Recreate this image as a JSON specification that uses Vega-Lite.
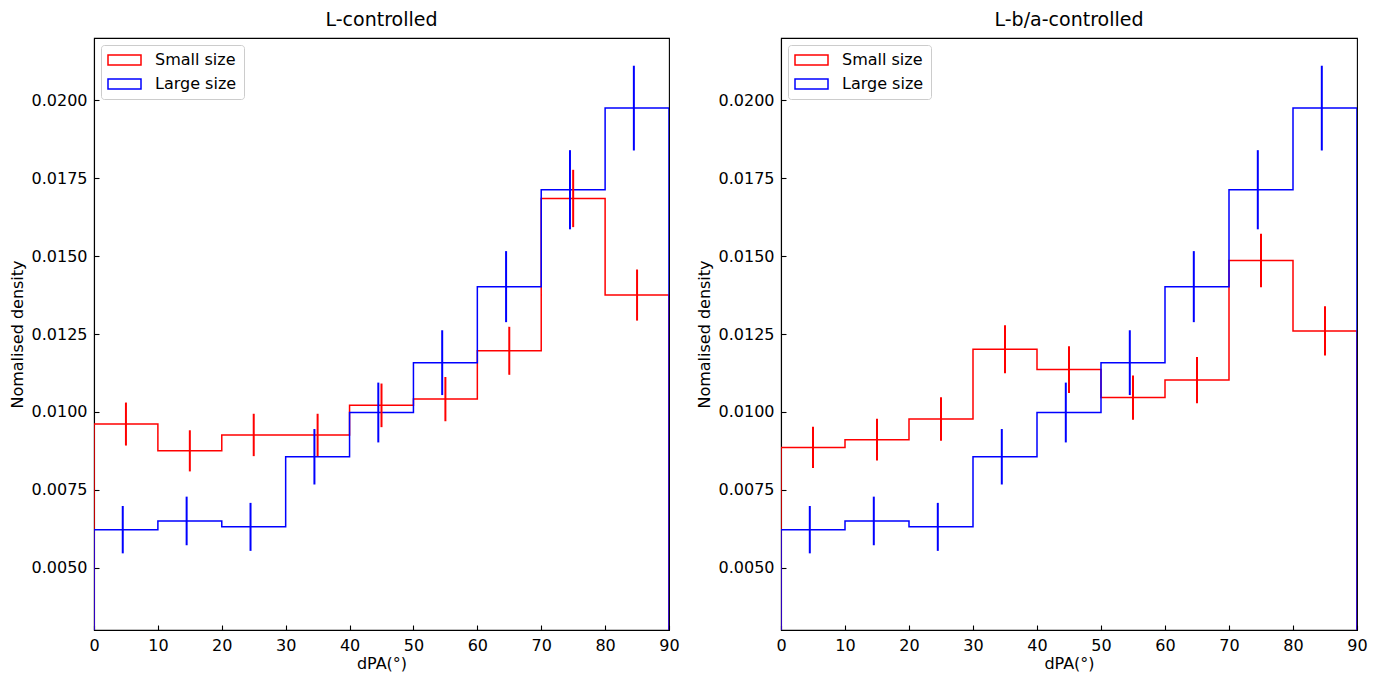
{
  "$schema": "https://vega.github.io/schema/vega-lite/v6.json",
  "padding": {"left": 8, "top": 10, "right": 5, "bottom": 5},
  "spacing": 15,
  "config": {
    "font": "DejaVu Sans",
    "view": {"stroke": "black", "strokeWidth": 1.1},
    "axis": {"grid": false, "domainColor": "black", "domainWidth": 1.1, "tickColor": "black", "tickWidth": 1.1, "tickSize": -5, "labelColor": "black", "titleColor": "black", "labelFontSize": 16, "titleFontSize": 16, "titleFontWeight": "normal", "labelPadding": 12, "labelFlush": false},
    "axisX": {"titlePadding": 2},
    "title": {"fontSize": 19, "fontWeight": "normal", "color": "black", "offset": 8},
    "legend": {
      "orient": "top-left", "offset": 7, "title": null,
      "symbolType": "M-1.6,-1H5V1H-1.6Z", "symbolSize": 100, "symbolStrokeWidth": 1.5,
      "symbolFillColor": "transparent", "labelFontSize": 16, "labelColor": "black", "labelOffset": 31,
      "rowPadding": 8, "padding": 7, "strokeColor": "#cccccc", "fillColor": "white", "cornerRadius": 3
    }
  },
  "datasets": {
    "steps": [
      {"panel": "L", "series": "Small size", "i": 0, "x": 0, "y": 0},
      {"panel": "L", "series": "Small size", "i": 1, "x": 0, "y": 0.00961},
      {"panel": "L", "series": "Small size", "i": 2, "x": 10, "y": 0.00875},
      {"panel": "L", "series": "Small size", "i": 3, "x": 20, "y": 0.00926},
      {"panel": "L", "series": "Small size", "i": 4, "x": 30, "y": 0.00926},
      {"panel": "L", "series": "Small size", "i": 5, "x": 40, "y": 0.01021},
      {"panel": "L", "series": "Small size", "i": 6, "x": 50, "y": 0.01041},
      {"panel": "L", "series": "Small size", "i": 7, "x": 60, "y": 0.01196},
      {"panel": "L", "series": "Small size", "i": 8, "x": 70, "y": 0.01685},
      {"panel": "L", "series": "Small size", "i": 9, "x": 80, "y": 0.01375},
      {"panel": "L", "series": "Small size", "i": 10, "x": 90, "y": 0.01375},
      {"panel": "L", "series": "Small size", "i": 11, "x": 90, "y": 0},
      {"panel": "L", "series": "Large size", "i": 0, "x": 0, "y": 0},
      {"panel": "L", "series": "Large size", "i": 1, "x": 0, "y": 0.00622},
      {"panel": "L", "series": "Large size", "i": 2, "x": 10, "y": 0.0065},
      {"panel": "L", "series": "Large size", "i": 3, "x": 20, "y": 0.00631},
      {"panel": "L", "series": "Large size", "i": 4, "x": 30, "y": 0.00856},
      {"panel": "L", "series": "Large size", "i": 5, "x": 40, "y": 0.00998},
      {"panel": "L", "series": "Large size", "i": 6, "x": 50, "y": 0.01158},
      {"panel": "L", "series": "Large size", "i": 7, "x": 60, "y": 0.01402},
      {"panel": "L", "series": "Large size", "i": 8, "x": 70, "y": 0.01713},
      {"panel": "L", "series": "Large size", "i": 9, "x": 80, "y": 0.01975},
      {"panel": "L", "series": "Large size", "i": 10, "x": 90, "y": 0.01975},
      {"panel": "L", "series": "Large size", "i": 11, "x": 90, "y": 0},
      {"panel": "R", "series": "Small size", "i": 0, "x": 0, "y": 0},
      {"panel": "R", "series": "Small size", "i": 1, "x": 0, "y": 0.00886},
      {"panel": "R", "series": "Small size", "i": 2, "x": 10, "y": 0.00911},
      {"panel": "R", "series": "Small size", "i": 3, "x": 20, "y": 0.00977},
      {"panel": "R", "series": "Small size", "i": 4, "x": 30, "y": 0.01201},
      {"panel": "R", "series": "Small size", "i": 5, "x": 40, "y": 0.01136},
      {"panel": "R", "series": "Small size", "i": 6, "x": 50, "y": 0.01046},
      {"panel": "R", "series": "Small size", "i": 7, "x": 60, "y": 0.01102},
      {"panel": "R", "series": "Small size", "i": 8, "x": 70, "y": 0.01486},
      {"panel": "R", "series": "Small size", "i": 9, "x": 80, "y": 0.0126},
      {"panel": "R", "series": "Small size", "i": 10, "x": 90, "y": 0.0126},
      {"panel": "R", "series": "Small size", "i": 11, "x": 90, "y": 0},
      {"panel": "R", "series": "Large size", "i": 0, "x": 0, "y": 0},
      {"panel": "R", "series": "Large size", "i": 1, "x": 0, "y": 0.00622},
      {"panel": "R", "series": "Large size", "i": 2, "x": 10, "y": 0.0065},
      {"panel": "R", "series": "Large size", "i": 3, "x": 20, "y": 0.00631},
      {"panel": "R", "series": "Large size", "i": 4, "x": 30, "y": 0.00856},
      {"panel": "R", "series": "Large size", "i": 5, "x": 40, "y": 0.00998},
      {"panel": "R", "series": "Large size", "i": 6, "x": 50, "y": 0.01158},
      {"panel": "R", "series": "Large size", "i": 7, "x": 60, "y": 0.01402},
      {"panel": "R", "series": "Large size", "i": 8, "x": 70, "y": 0.01713},
      {"panel": "R", "series": "Large size", "i": 9, "x": 80, "y": 0.01975},
      {"panel": "R", "series": "Large size", "i": 10, "x": 90, "y": 0.01975},
      {"panel": "R", "series": "Large size", "i": 11, "x": 90, "y": 0}
    ],
    "errs": [
      {"panel": "L", "series": "Small size", "x": 5, "lo": 0.00892, "hi": 0.0103},
      {"panel": "L", "series": "Small size", "x": 15, "lo": 0.00809, "hi": 0.00941},
      {"panel": "L", "series": "Small size", "x": 25, "lo": 0.00858, "hi": 0.00994},
      {"panel": "L", "series": "Small size", "x": 35, "lo": 0.00858, "hi": 0.00994},
      {"panel": "L", "series": "Small size", "x": 45, "lo": 0.00951, "hi": 0.01091},
      {"panel": "L", "series": "Small size", "x": 55, "lo": 0.0097, "hi": 0.01112},
      {"panel": "L", "series": "Small size", "x": 65, "lo": 0.01119, "hi": 0.01273},
      {"panel": "L", "series": "Small size", "x": 75, "lo": 0.01593, "hi": 0.01777},
      {"panel": "L", "series": "Small size", "x": 85, "lo": 0.01293, "hi": 0.01457},
      {"panel": "L", "series": "Large size", "x": 4.5, "lo": 0.00546, "hi": 0.00698},
      {"panel": "L", "series": "Large size", "x": 14.5, "lo": 0.00572, "hi": 0.00728},
      {"panel": "L", "series": "Large size", "x": 24.5, "lo": 0.00554, "hi": 0.00708},
      {"panel": "L", "series": "Large size", "x": 34.5, "lo": 0.00767, "hi": 0.00945},
      {"panel": "L", "series": "Large size", "x": 44.5, "lo": 0.00902, "hi": 0.01094},
      {"panel": "L", "series": "Large size", "x": 54.5, "lo": 0.01054, "hi": 0.01262},
      {"panel": "L", "series": "Large size", "x": 64.5, "lo": 0.01288, "hi": 0.01516},
      {"panel": "L", "series": "Large size", "x": 74.5, "lo": 0.01586, "hi": 0.0184},
      {"panel": "L", "series": "Large size", "x": 84.5, "lo": 0.01839, "hi": 0.02111},
      {"panel": "R", "series": "Small size", "x": 5, "lo": 0.0082, "hi": 0.00952},
      {"panel": "R", "series": "Small size", "x": 15, "lo": 0.00844, "hi": 0.00978},
      {"panel": "R", "series": "Small size", "x": 25, "lo": 0.00907, "hi": 0.01047},
      {"panel": "R", "series": "Small size", "x": 35, "lo": 0.01124, "hi": 0.01278},
      {"panel": "R", "series": "Small size", "x": 45, "lo": 0.01061, "hi": 0.01211},
      {"panel": "R", "series": "Small size", "x": 55, "lo": 0.00975, "hi": 0.01117},
      {"panel": "R", "series": "Small size", "x": 65, "lo": 0.01028, "hi": 0.01176},
      {"panel": "R", "series": "Small size", "x": 75, "lo": 0.014, "hi": 0.01572},
      {"panel": "R", "series": "Small size", "x": 85, "lo": 0.01181, "hi": 0.01339},
      {"panel": "R", "series": "Large size", "x": 4.5, "lo": 0.00546, "hi": 0.00698},
      {"panel": "R", "series": "Large size", "x": 14.5, "lo": 0.00572, "hi": 0.00728},
      {"panel": "R", "series": "Large size", "x": 24.5, "lo": 0.00554, "hi": 0.00708},
      {"panel": "R", "series": "Large size", "x": 34.5, "lo": 0.00767, "hi": 0.00945},
      {"panel": "R", "series": "Large size", "x": 44.5, "lo": 0.00902, "hi": 0.01094},
      {"panel": "R", "series": "Large size", "x": 54.5, "lo": 0.01054, "hi": 0.01262},
      {"panel": "R", "series": "Large size", "x": 64.5, "lo": 0.01288, "hi": 0.01516},
      {"panel": "R", "series": "Large size", "x": 74.5, "lo": 0.01586, "hi": 0.0184},
      {"panel": "R", "series": "Large size", "x": 84.5, "lo": 0.01839, "hi": 0.02111}
    ]
  },
  "resolve": {"legend": {"color": "independent"}},
  "hconcat": [
    {
      "title": "L-controlled",
      "width": 575, "height": 592,
      "layer": [
        {
          "data": {"name": "steps"},
          "transform": [{"filter": "datum.panel === 'L'"}],
          "mark": {"type": "line", "interpolate": "step-after", "strokeWidth": 1.5, "clip": true},
          "encoding": {
            "x": {"field": "x", "type": "quantitative", "scale": {"domain": [0, 90], "nice": false}, "axis": {"values": [0,10,20,30,40,50,60,70,80,90], "title": "dPA(°)"}},
            "y": {"field": "y", "type": "quantitative", "scale": {"domain": [0.003, 0.022], "nice": false, "zero": false}, "axis": {"values": [0.005,0.0075,0.01,0.0125,0.015,0.0175,0.02], "format": ".4f", "title": "Nomalised density", "titlePadding": 6}},
            "color": {"field": "series", "type": "nominal", "scale": {"domain": ["Small size", "Large size"], "range": ["#ff0000", "#0000ff"]}},
            "order": {"field": "i", "type": "quantitative"}
          }
        },
        {
          "data": {"name": "errs"},
          "transform": [{"filter": "datum.panel === 'L'"}],
          "mark": {"type": "rule", "strokeWidth": 2},
          "encoding": {
            "x": {"field": "x", "type": "quantitative"},
            "y": {"field": "lo", "type": "quantitative"},
            "y2": {"field": "hi"},
            "color": {"field": "series", "type": "nominal"}
          }
        }
      ]
    },
    {
      "title": "L-b/a-controlled",
      "width": 576, "height": 592,
      "layer": [
        {
          "data": {"name": "steps"},
          "transform": [{"filter": "datum.panel === 'R'"}],
          "mark": {"type": "line", "interpolate": "step-after", "strokeWidth": 1.5, "clip": true},
          "encoding": {
            "x": {"field": "x", "type": "quantitative", "scale": {"domain": [0, 90], "nice": false}, "axis": {"values": [0,10,20,30,40,50,60,70,80,90], "title": "dPA(°)"}},
            "y": {"field": "y", "type": "quantitative", "scale": {"domain": [0.003, 0.022], "nice": false, "zero": false}, "axis": {"values": [0.005,0.0075,0.01,0.0125,0.015,0.0175,0.02], "format": ".4f", "title": "Nomalised density", "titlePadding": 6}},
            "color": {"field": "series", "type": "nominal", "scale": {"domain": ["Small size", "Large size"], "range": ["#ff0000", "#0000ff"]}},
            "order": {"field": "i", "type": "quantitative"}
          }
        },
        {
          "data": {"name": "errs"},
          "transform": [{"filter": "datum.panel === 'R'"}],
          "mark": {"type": "rule", "strokeWidth": 2},
          "encoding": {
            "x": {"field": "x", "type": "quantitative"},
            "y": {"field": "lo", "type": "quantitative"},
            "y2": {"field": "hi"},
            "color": {"field": "series", "type": "nominal"}
          }
        }
      ]
    }
  ]
}
